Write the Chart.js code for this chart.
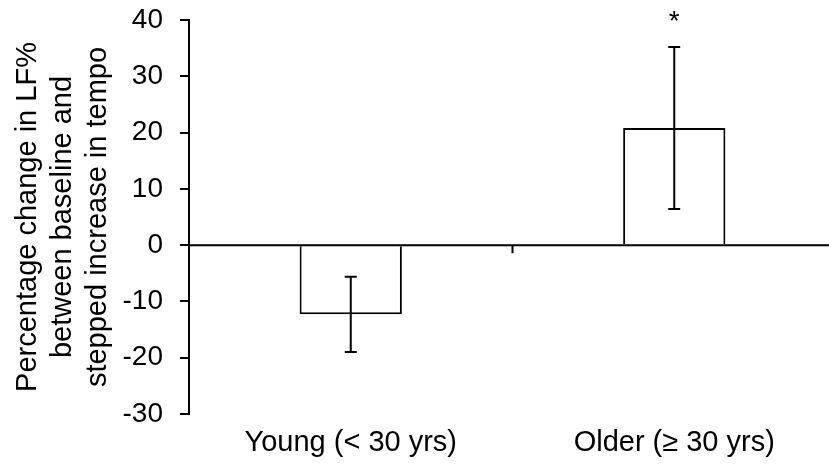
<!DOCTYPE html>
<html>
<head>
<meta charset="utf-8">
<script src="https://cdn.jsdelivr.net/npm/chart.js@4"></script>
<style>
  html, body { margin: 0; padding: 0; background: #fff; overflow: hidden; }
  #wrap { width: 836px; height: 472px; }
</style>
</head>
<body>
<div id="wrap"><canvas id="chart"></canvas></div>
<script>
const groups = ['Young (< 30 yrs)', 'Older (\u2265 30 yrs)'];
const meanChange = [-12.3, 20.8];
const errorSize = [6.7, 14.4];
const significance = ['', '*'];
const yTicks = { min: -30, max: 40, step: 10 };

const FONT = "'Liberation Sans', Arial, sans-serif";

const errorBars = {
  id: 'errorBars',
  afterDatasetsDraw(chart) {
    const ctx = chart.ctx;
    const x = chart.scales.x;
    const y = chart.scales.y;
    const zero = y.getPixelForValue(0);
    ctx.save();
    ctx.strokeStyle = '#000';
    ctx.lineWidth = 2;

    // zero line + category divider tick
    const mid = (x.getPixelForValue(0) + x.getPixelForValue(1)) / 2;
    ctx.beginPath();
    ctx.moveTo(chart.chartArea.left, zero); ctx.lineTo(chart.chartArea.right, zero);
    ctx.moveTo(mid, zero); ctx.lineTo(mid, zero + 8);
    ctx.stroke();

    const meta = chart.getDatasetMeta(0);
    meta.data.forEach((bar, i) => {
      const top = y.getPixelForValue(meanChange[i] + errorSize[i]);
      const bot = y.getPixelForValue(meanChange[i] - errorSize[i]);
      ctx.beginPath();
      ctx.moveTo(bar.x, top); ctx.lineTo(bar.x, bot);
      ctx.moveTo(bar.x - 6, top); ctx.lineTo(bar.x + 6, top);
      ctx.moveTo(bar.x - 6, bot); ctx.lineTo(bar.x + 6, bot);
      ctx.stroke();
      if (significance[i]) {
        ctx.fillStyle = '#000';
        ctx.font = '28px ' + FONT;
        ctx.textAlign = 'center';
        ctx.textBaseline = 'alphabetic';
        ctx.fillText(significance[i], bar.x, top - 17);
      }
    });
    ctx.restore();
  }
};

new Chart(document.getElementById('chart'), {
  type: 'bar',
  data: {
    labels: groups,
    datasets: [{
      data: meanChange,
      backgroundColor: '#fff',
      borderColor: '#000',
      borderWidth: 2,
      borderSkipped: 'start',
      barPercentage: 1,
      categoryPercentage: 0.316
    }]
  },
  options: {
    responsive: true,
    maintainAspectRatio: false,
    animation: false,
    layout: { padding: 0 },
    plugins: { legend: { display: false }, tooltip: { enabled: false } },
    scales: {
      x: {
        grid: { display: false },
        border: { display: false },
        ticks: { color: '#000', padding: 4, font: { family: FONT, size: 29 } },
        afterFit(scale) { scale.height = 58; }
      },
      y: {
        min: yTicks.min,
        max: yTicks.max,
        ticks: { stepSize: yTicks.step, color: '#000', padding: 17, font: { family: FONT, size: 28 } },
        grid: {
          drawOnChartArea: false,
          color: '#000',
          lineWidth: 2,
          tickLength: 9
        },
        border: { display: true, color: '#000', width: 2 },
        title: {
          display: true,
          text: ['Percentage change in LF%', 'between baseline and', 'stepped increase in tempo'],
          color: '#000',
          padding: { top: 10, bottom: 0 },
          font: { family: FONT, size: 29, lineHeight: '35px' }
        },
        afterFit(scale) {
          scale.width = 189;
          scale.paddingTop = 20;
          scale.paddingBottom = 0;
        }
      }
    }
  },
  plugins: [errorBars]
});
</script>
</body>
</html>
